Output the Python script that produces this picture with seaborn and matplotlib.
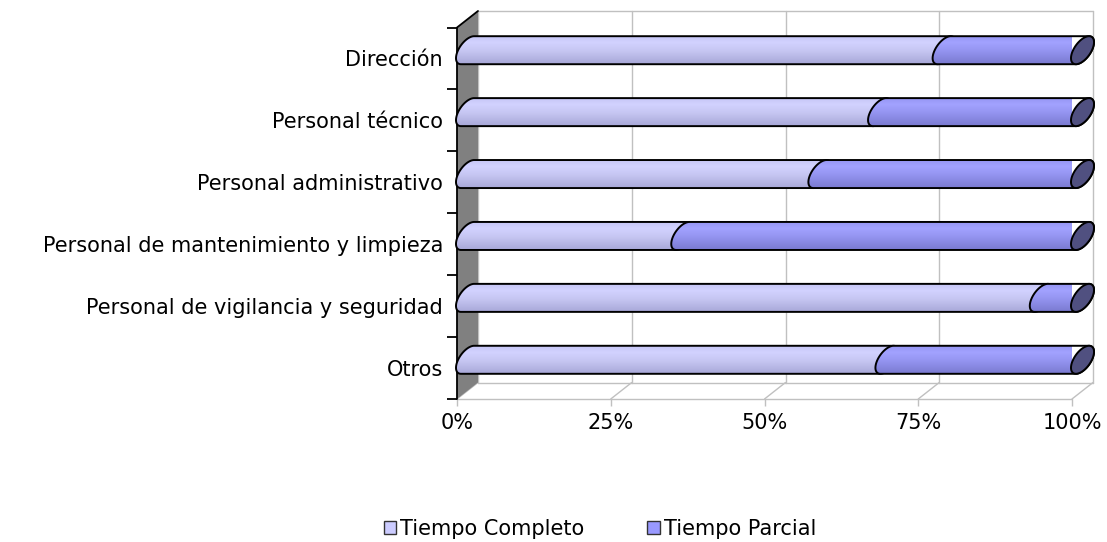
import numpy as np
import pandas as pd
import matplotlib
matplotlib.use("Agg")
import matplotlib.pyplot as plt
import seaborn as sns
from matplotlib.path import Path
from matplotlib.patches import PathPatch, Polygon, Patch
from matplotlib.lines import Line2D
from matplotlib.colors import LinearSegmentedColormap

# ---- data -------------------------------------------------------------
categorias = ["Dirección", "Personal técnico", "Personal administrativo",
              "Personal de mantenimiento y limpieza",
              "Personal de vigilancia y seguridad", "Otros"]
tiempo_completo = [77.5, 67.0, 57.3, 35.0, 93.3, 68.2]
tiempo_parcial = [22.5, 33.0, 42.7, 65.0, 6.7, 31.8]
series = ["Tiempo Completo", "Tiempo Parcial"]
ticks_pct = [0, 25, 50, 75, 100]

# ---- style ------------------------------------------------------------
sns.set_theme(style="white")
plt.rcParams["font.family"] = ["DejaVu Sans"]
plt.rcParams["text.color"] = "black"
plt.rcParams["xtick.labelcolor"] = "black"
plt.rcParams["ytick.labelcolor"] = "black"
FS = 15

COL_FULL = "#CCCCFF"
COL_PART = "#9999FF"
COL_CAP = "#505080"
COL_GRID = "#C0C0C0"
COL_WALL = "#808080"

grad_full = LinearSegmentedColormap.from_list(
    "full", [(0, "#C4C4F4"), (0.25, "#D2D2FF"), (0.55, "#C6C6F2"), (1, "#A8A8D8")])
grad_part = LinearSegmentedColormap.from_list(
    "part", [(0, "#9494F2"), (0.25, "#A2A2FF"), (0.55, "#9494F0"), (1, "#7A7AD0")])

W_PX, H_PX = 1107, 542
fig = plt.figure(figsize=(W_PX / 100, H_PX / 100), dpi=100)

# front plane of the 3-D box (pixel edges)
FL, FR, FT, FB = 457, 1072, 27.5, 399
ax = fig.add_axes([FL / W_PX, 1 - FB / H_PX, (FR - FL) / W_PX, (FB - FT) / H_PX])

df = pd.DataFrame({"categoria": categorias,
                   "completo": tiempo_completo,
                   "total": np.add(tiempo_completo, tiempo_parcial)})

BAR_W = 0.45
sns.barplot(data=df, y="categoria", x="total", color=COL_PART, orient="h",
            width=BAR_W, ax=ax, saturation=1)
sns.barplot(data=df, y="categoria", x="completo", color=COL_FULL, orient="h",
            width=BAR_W, ax=ax, saturation=1)

XMIN, XMAX = 0, 100
YMIN, YMAX = -0.5, len(categorias) - 0.5
ax.set_xlim(XMIN, XMAX)
ax.set_ylim(YMAX, YMIN)

# pixel -> data conversion for the depth offsets
sx = (FR - FL) / (XMAX - XMIN)
sy = (FB - FT) / (YMAX - YMIN)
DEPTH = (21.0, 16.5)  # px right, px up


def shift(x, y, frac):
    return x + frac * DEPTH[0] / sx, y - frac * DEPTH[1] / sy


# ---- box: back wall, floor, side wall -----------------------------------
line_kw = dict(color=COL_GRID, lw=1.0, clip_on=False, zorder=0.5)
for p in ticks_pct:
    bx0, by0 = shift(p, YMIN, 1)
    bx1, by1 = shift(p, YMAX, 1)
    ax.add_line(Line2D([bx0, bx1], [by0, by1], **line_kw))
    ax.add_line(Line2D([p, bx1], [YMAX, by1], **line_kw))
bx0, by0 = shift(XMIN, YMIN, 1)
bx1, by1 = shift(XMAX, YMIN, 1)
ax.add_line(Line2D([bx0, bx1], [by0, by1], **line_kw))
bx0, by0 = shift(XMIN, YMAX, 1)
bx1, by1 = shift(XMAX, YMAX, 1)
ax.add_line(Line2D([bx0, bx1], [by0, by1], **line_kw))
ax.add_line(Line2D([XMIN, XMAX], [YMAX, YMAX], **line_kw))

side = [(XMIN, YMIN), (XMIN, YMAX), shift(XMIN, YMAX, 1), shift(XMIN, YMIN, 1)]
ax.add_patch(Polygon(side, closed=True, facecolor=COL_WALL, edgecolor="none",
                     clip_on=False, zorder=0.6))
ax.add_line(Line2D([XMIN, XMIN], [YMIN, YMAX], color="black", lw=1.3,
                   clip_on=False, zorder=0.7))
tx, ty = shift(XMIN, YMIN, 1)
ax.add_line(Line2D([XMIN, tx], [YMIN, ty], color="black", lw=1.3,
                   clip_on=False, zorder=0.7))

# ---- cylinder segments ---------------------------------------------------
EA = 11.5          # vertical semi-axis (px)
EW = (11.5, 8.0)   # depth semi-axis (px)
T0 = np.arctan2(EW[1], EA)


def ell(xc, yc, t):
    px = EW[0] * np.sin(t)
    py = EA * np.cos(t) + EW[1] * np.sin(t)
    return xc + px / sx, yc - py / sy


def cylinder(x0, x1, yc):
    tl = np.linspace(T0 + np.pi, T0 + 2 * np.pi, 60)
    tr = np.linspace(T0, T0 + np.pi, 60)
    lx, ly = ell(x0, yc, tl)
    rx, ry = ell(x1, yc, tr)
    xs = np.concatenate([lx, rx, lx[:1]])
    ys = np.concatenate([ly, ry, ly[:1]])
    codes = [Path.MOVETO] + [Path.LINETO] * (len(xs) - 2) + [Path.CLOSEPOLY]
    return Path(np.column_stack([xs, ys]), codes)


n = len(categorias)
totals = ax.patches[:n]
fulls = ax.patches[n:2 * n]
grad = np.linspace(0, 1, 64).reshape(-1, 1)
hh = np.hypot(EA, EW[1]) / sy

for r_tot, r_full in zip(totals, fulls):
    r_tot.set_visible(False)
    r_full.set_visible(False)
    yc = r_full.get_y() + r_full.get_height() / 2
    _, myc = shift(0, yc, 0.5)
    start = r_full.get_x()
    split = start + r_full.get_width()
    end = r_tot.get_x() + r_tot.get_width()
    segs = [(start, split, grad_full), (split, end, grad_part)]
    for z, (a, b, cmap) in enumerate(segs):
        a_m, _ = shift(a, yc, 0.5)
        b_m, _ = shift(b, yc, 0.5)
        path = cylinder(a_m, b_m, myc)
        patch = PathPatch(path, facecolor="none", edgecolor="black", lw=1.4,
                          clip_on=False, zorder=3 + z)
        ax.add_patch(patch)
        im = ax.imshow(grad, cmap=cmap, aspect="auto", origin="upper",
                       extent=[a_m - 3, b_m + 3, myc + hh, myc - hh],
                       zorder=2.9 + z, interpolation="bilinear")
        im.set_clip_path(patch)
    # end cap
    e_m, _ = shift(end, yc, 0.5)
    t = np.linspace(0, 2 * np.pi, 120)
    cx, cy = ell(e_m, myc, t)
    ax.add_patch(Polygon(np.column_stack([cx, cy]), closed=True,
                         facecolor=COL_CAP, edgecolor="black", lw=1.4,
                         clip_on=False, zorder=6))

ax.set_xlim(XMIN, XMAX)
ax.set_ylim(YMAX, YMIN)

# ---- axes / ticks --------------------------------------------------------
for s in ax.spines.values():
    s.set_visible(False)
ax.set_xlabel("")
ax.set_ylabel("")
ax.set_xticks(ticks_pct)
ax.set_xticklabels([f"{p}%" for p in ticks_pct], fontsize=FS)
ax.set_yticks(range(n))
ax.set_yticklabels(categorias, fontsize=FS)
ax.set_yticks(np.arange(YMIN, YMAX + 0.01, 1), minor=True)
ax.tick_params(axis="y", which="major", length=0, pad=10, labelcolor="black")
ax.tick_params(axis="y", which="minor", length=7.5, width=1.3, color="black",
               direction="out", left=True)
ax.tick_params(axis="x", which="major", length=5, width=1.0, color=COL_GRID,
               pad=5, bottom=True, labelcolor="black")
ax.grid(False)
ax.patch.set_visible(False)

# ---- legend -------------------------------------------------------------
handles = [Patch(facecolor=COL_FULL, edgecolor="#333333", lw=1.0),
           Patch(facecolor=COL_PART, edgecolor="#333333", lw=1.0)]
fig.legend(handles, series, loc="center",
           bbox_to_anchor=(600 / W_PX, 1 - 529 / H_PX),
           ncol=2, frameon=False, fontsize=FS, handlelength=0.6,
           handleheight=0.6, handletextpad=0.2, columnspacing=3.0,
           labelcolor="black")

fig.savefig("out.png", dpi=100)
